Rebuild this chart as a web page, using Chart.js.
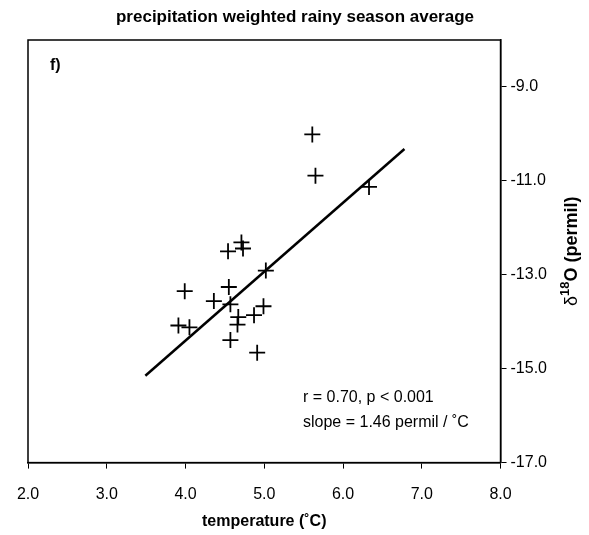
<!DOCTYPE html>
<html>
<head>
<script src="https://cdn.jsdelivr.net/npm/chart.js@4"></script>
<style>
  body { margin: 0; background: #fff; }
  #wrap { width: 589px; height: 535px; position: relative; }
</style>
</head>
<body>
<div id="wrap"><canvas id="c"></canvas></div>
<script>
const tempX = [5.61, 5.65, 6.33, 4.71, 4.73, 4.54, 5.02, 4.55, 3.99, 4.36, 4.57, 4.99, 4.87, 4.67, 4.66, 3.91, 4.05, 4.57, 4.91];
const d18O = [-10.01, -10.89, -11.13, -12.31, -12.44, -12.5, -12.91, -13.26, -13.35, -13.56, -13.63, -13.67, -13.86, -13.9, -14.06, -14.08, -14.12, -14.39, -14.66];
const fitX = [3.49, 6.78];
const fitY = [-15.15, -10.32];
const xTicks = [2, 3, 4, 5, 6, 7, 8];
const yTicks = [-17, -15, -13, -11, -9];

const labelPlugin = {
  id: "labels",
  afterDraw(chart) {
    const ctx = chart.ctx;
    const a = chart.chartArea;
    ctx.save();
    ctx.strokeStyle = "#000";
    ctx.lineWidth = 1.5;
    ctx.strokeRect(a.left, a.top, a.right - a.left, a.bottom - a.top);
    ctx.fillStyle = "#000";
    ctx.font = "bold 17px 'Liberation Sans', Arial";
    ctx.textAlign = "center";
    ctx.fillText("precipitation weighted rainy season average", 295, 22);
    ctx.font = "bold 16px 'Liberation Sans', Arial";
    ctx.textAlign = "left";
    ctx.fillText("f)", a.left + 22, a.top + 30);
    ctx.font = "16px 'Liberation Sans', Arial";
    ctx.fillText("r = 0.70, p < 0.001", 303, 402);
    ctx.fillText("slope = 1.46 permil / \u02daC", 303, 427);
    // rotated y title, reading bottom to top
    ctx.translate(572, (a.top + a.bottom) / 2);
    ctx.rotate(-Math.PI / 2);
    ctx.textAlign = "left";
    ctx.textBaseline = "middle";
    const p1 = "\u03b4", p2 = "18", p3 = "O (permil)";
    ctx.font = "18px 'Liberation Sans', Arial";
    const w1 = ctx.measureText(p1).width;
    ctx.font = "bold 13px 'Liberation Sans', Arial";
    const w2 = ctx.measureText(p2).width;
    ctx.font = "bold 18px 'Liberation Sans', Arial";
    const w3 = ctx.measureText(p3).width;
    let x = -(w1 + w2 + w3) / 2;
    ctx.font = "18px 'Liberation Sans', Arial";
    ctx.fillText(p1, x, 0); x += w1;
    ctx.font = "bold 13px 'Liberation Sans', Arial";
    ctx.fillText(p2, x, -7); x += w2;
    ctx.font = "bold 18px 'Liberation Sans', Arial";
    ctx.fillText(p3, x, 0);
    ctx.restore();
  }
};

new Chart(document.getElementById("c"), {
  type: "scatter",
  data: {
    datasets: [
      {
        data: tempX.map((x, i) => ({ x: x, y: d18O[i] })),
        pointStyle: "cross",
        pointRadius: 8,
        borderColor: "#000",
        borderWidth: 1.8,
        showLine: false
      },
      {
        data: fitX.map((x, i) => ({ x: x, y: fitY[i] })),
        showLine: true,
        pointRadius: 0,
        borderColor: "#000",
        borderWidth: 2.5
      }
    ]
  },
  options: {
    responsive: true,
    maintainAspectRatio: false,
    animation: false,
    layout: { padding: { top: 40, left: 28, right: 38, bottom: 4 } },
    plugins: { legend: { display: false }, tooltip: { enabled: false } },
    scales: {
      x: {
        min: 2, max: 8,
        afterBuildTicks: (s) => { s.ticks = xTicks.map(v => ({ value: v })); },
        grid: { display: true, drawOnChartArea: false, drawTicks: true, tickLength: 6, color: "#000" },
        border: { color: "#000", width: 1.5 },
        ticks: { color: "#000", padding: 16, font: { size: 16, family: "'Liberation Sans', Arial" }, callback: v => v.toFixed(1), maxRotation: 0 },
        title: { display: true, text: "temperature (\u02daC)", color: "#000", padding: { top: -8, bottom: 0 }, font: { size: 16, weight: "bold", family: "'Liberation Sans', Arial" } }
      },
      y: {
        position: "right",
        min: -17, max: -8,
        afterBuildTicks: (s) => { s.ticks = yTicks.map(v => ({ value: v })); },
        grid: { display: true, drawOnChartArea: false, drawTicks: true, tickLength: 6, color: "#000" },
        border: { color: "#000", width: 1.5 },
        ticks: { color: "#000", padding: 4, font: { size: 16, family: "'Liberation Sans', Arial" }, callback: v => v.toFixed(1) }
      }
    }
  },
  plugins: [labelPlugin]
});
</script>
</body>
</html>
